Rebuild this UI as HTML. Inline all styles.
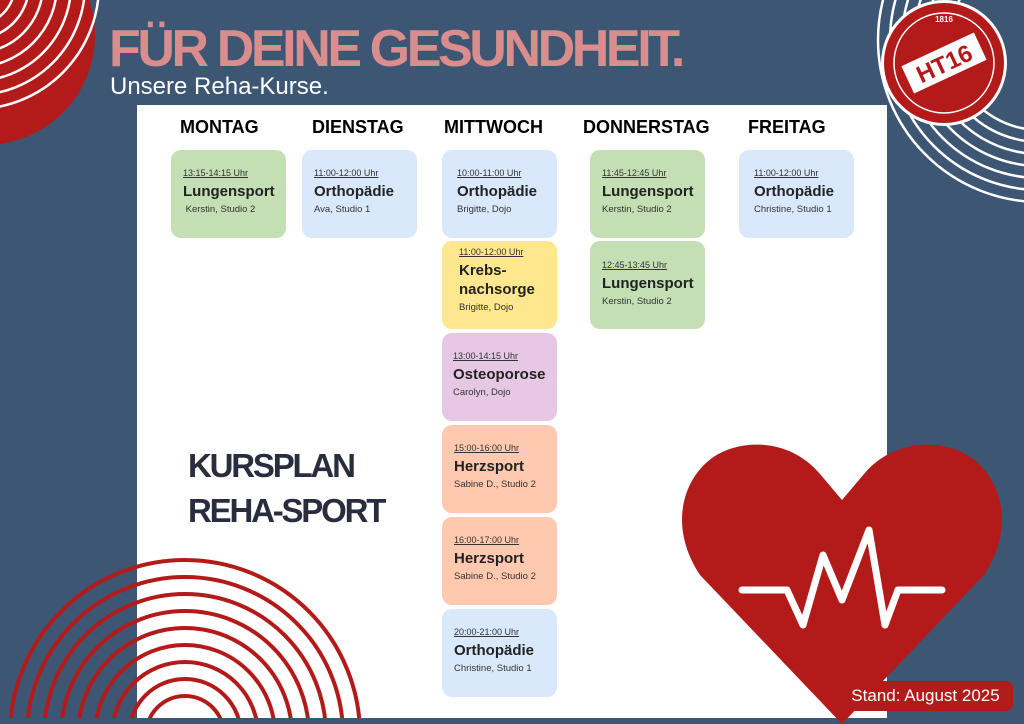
<!DOCTYPE html>
<html><head><meta charset="utf-8"><style>
*{margin:0;padding:0;box-sizing:border-box}
html,body{width:1024px;height:724px;overflow:hidden}
body{background:#3d5673;position:relative;font-family:"Liberation Sans",sans-serif}
.abs{position:absolute}
.panel{left:137px;top:105px;width:750px;height:613px;background:#fff}
.title{left:109px;top:19px;font-size:52px;font-weight:bold;color:#d98d8d;letter-spacing:-3.4px;white-space:nowrap}
.sub{left:110px;top:73px;font-size:24px;color:#fff;white-space:nowrap}
.day{top:117px;font-size:18px;font-weight:bold;color:#000;white-space:nowrap}
.card{position:absolute;width:115px;height:88px;border-radius:10px;padding:18px 0 0 12px;color:#222;overflow:hidden}
.t{font-size:9px;text-decoration:underline;color:#333;white-space:nowrap}
.n{font-size:15px;font-weight:bold;margin-top:4px;white-space:nowrap;line-height:19px}
.p{font-size:9.5px;margin-top:3px;color:#333;white-space:nowrap}
.g{background:#c3dfb3}.b{background:#dae8fc}.y{background:#fee78f}.v{background:#e7c8e4}.o{background:#fec9ae}
.kp{left:188px;top:443px;font-size:33px;font-weight:bold;color:#2a2d3e;letter-spacing:-2.2px;line-height:45px}
.stand{left:838px;top:681px;width:175px;height:30px;background:#b31b1b;border-radius:7px;color:#fff;font-size:17px;text-align:center;line-height:30px}
</style></head><body>
<svg class="abs" style="left:0;top:0" width="1024" height="724">
<circle cx="-15" cy="35" r="110" fill="#b31b1b"/>
<g fill="none" stroke="#fff" stroke-width="2.5">
<circle cx="-25" cy="-15" r="40"/><circle cx="-25" cy="-15" r="54"/><circle cx="-25" cy="-15" r="68"/><circle cx="-25" cy="-15" r="82"/><circle cx="-25" cy="-15" r="96"/><circle cx="-25" cy="-15" r="110"/><circle cx="-25" cy="-15" r="124"/>
</g>
<g fill="none" stroke="#fff" stroke-width="2.5">
<circle cx="1040" cy="40" r="90"/><circle cx="1040" cy="40" r="102"/><circle cx="1040" cy="40" r="114"/><circle cx="1040" cy="40" r="126"/><circle cx="1040" cy="40" r="138"/><circle cx="1040" cy="40" r="150"/><circle cx="1040" cy="40" r="162"/>
</g>
</svg>
<div class="abs panel"></div>
<svg class="abs" style="left:0;top:0" width="1024" height="724">
<circle cx="944" cy="63" r="63" fill="#fff"/>
<circle cx="944" cy="63" r="60" fill="#b31b1b"/>
<circle cx="944" cy="63" r="50" fill="none" stroke="#fff" stroke-width="1.5"/>
<g transform="rotate(-25 944 63)"><rect x="904" y="48" width="80" height="30" fill="#fff"/>
<text x="944" y="72" text-anchor="middle" font-family="Liberation Sans" font-weight="bold" font-size="24" fill="#b31b1b">HT16</text></g>
<text x="944" y="22" text-anchor="middle" font-size="8" font-weight="bold" fill="#fff" font-family="Liberation Sans">1816</text>
<g fill="none" stroke="#b31b1b" stroke-width="4">
<circle cx="185" cy="735" r="175"/><circle cx="185" cy="735" r="158"/><circle cx="185" cy="735" r="141"/><circle cx="185" cy="735" r="124"/><circle cx="185" cy="735" r="107"/><circle cx="185" cy="735" r="90"/><circle cx="185" cy="735" r="73"/><circle cx="185" cy="735" r="56"/><circle cx="185" cy="735" r="39"/>
</g>
<rect x="0" y="718" width="1024" height="6" fill="#3d5673"/>
<path d="M842 500 L820 474 C790 438 740 438 712 458 C680 482 670 530 700 575 L842 724 L984 575 C1014 530 1004 482 972 458 C944 438 894 438 864 474 Z" fill="#b31b1b"/>
<polyline points="742,590 787,590 803,625 823,555 842,600 869,530 885,625 898,590 942,590" fill="none" stroke="#fff" stroke-width="7" stroke-linejoin="round" stroke-linecap="round"/>
</svg>
<div class="abs title">FÜR DEINE GESUNDHEIT.</div>
<div class="abs sub">Unsere Reha-Kurse.</div>
<div class="abs day" style="left:180px">MONTAG</div>
<div class="abs day" style="left:312px">DIENSTAG</div>
<div class="abs day" style="left:444px">MITTWOCH</div>
<div class="abs day" style="left:583px">DONNERSTAG</div>
<div class="abs day" style="left:748px">FREITAG</div>

<div class="card g" style="left:171px;top:150px"><div class="t">13:15-14:15 Uhr</div><div class="n">Lungensport</div><div class="p">&nbsp;Kerstin, Studio 2</div></div>
<div class="card b" style="left:302px;top:150px"><div class="t">11:00-12:00 Uhr</div><div class="n">Orthopädie</div><div class="p">Ava, Studio 1</div></div>
<div class="card b" style="left:442px;top:150px;padding-left:15px"><div class="t">10:00-11:00 Uhr</div><div class="n">Orthopädie</div><div class="p">Brigitte, Dojo</div></div>
<div class="card y" style="left:442px;top:241px;padding:6px 0 0 17px"><div class="t">11:00-12:00 Uhr</div><div class="n">Krebs-<br>nachsorge</div><div class="p">Brigitte, Dojo</div></div>
<div class="card v" style="left:442px;top:333px;padding-left:11px"><div class="t">13:00-14:15 Uhr</div><div class="n">Osteoporose</div><div class="p">Carolyn, Dojo</div></div>
<div class="card o" style="left:442px;top:425px"><div class="t">15:00-16:00 Uhr</div><div class="n">Herzsport</div><div class="p">Sabine D., Studio 2</div></div>
<div class="card o" style="left:442px;top:517px"><div class="t">16:00-17:00 Uhr</div><div class="n">Herzsport</div><div class="p">Sabine D., Studio 2</div></div>
<div class="card b" style="left:442px;top:609px"><div class="t">20:00-21:00 Uhr</div><div class="n">Orthopädie</div><div class="p">Christine, Studio 1</div></div>
<div class="card g" style="left:590px;top:150px"><div class="t">11:45-12:45 Uhr</div><div class="n">Lungensport</div><div class="p">Kerstin, Studio 2</div></div>
<div class="card g" style="left:590px;top:241px;padding-top:19px"><div class="t">12:45-13:45 Uhr</div><div class="n">Lungensport</div><div class="p">Kerstin, Studio 2</div></div>
<div class="card b" style="left:739px;top:150px;padding-left:15px"><div class="t">11:00-12:00 Uhr</div><div class="n">Orthopädie</div><div class="p">Christine, Studio 1</div></div>

<div class="abs kp">KURSPLAN<br>REHA-SPORT</div>
<div class="abs stand">Stand: August 2025</div>
</body></html>
